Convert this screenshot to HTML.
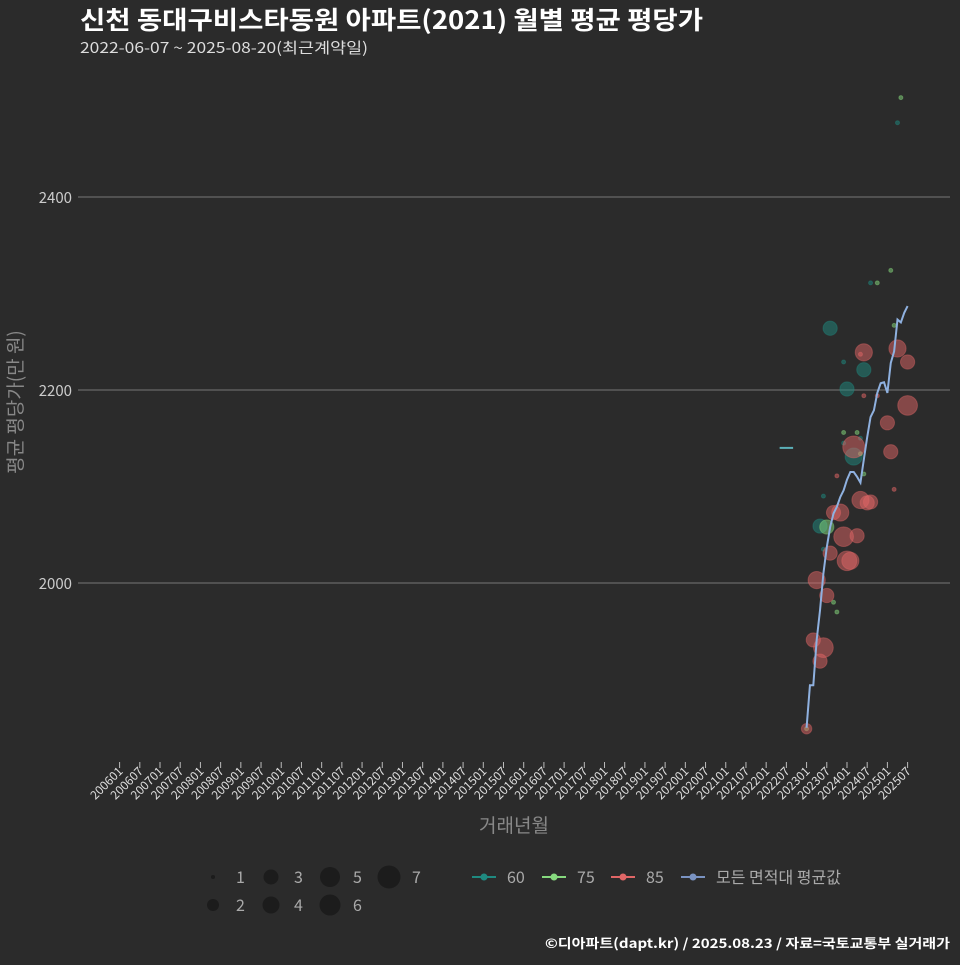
<!DOCTYPE html>
<html><head><meta charset="utf-8">
<style>
body{margin:0;background:#2b2b2b;}
svg text{font-family:"Noto Sans CJK KR","Liberation Sans",sans-serif;}
</style></head>
<body>
<svg id="chart" width="960" height="960" xmlns="http://www.w3.org/2000/svg">
<rect width="960" height="960" fill="#2b2b2b"/>
<text x="80" y="29" fill="#ffffff" font-size="25" font-weight="bold" textLength="623" lengthAdjust="spacingAndGlyphs">신천 동대구비스타동원 아파트(2021) 월별 평균 평당가</text>
<text x="80" y="53" fill="#dddddd" font-size="15" textLength="288" lengthAdjust="spacingAndGlyphs">2022-06-07 ~ 2025-08-20(최근계약일)</text>
<g id="grid"></g>
<g id="yaxis"></g>
<g id="xaxis"></g>
<g id="marks"></g>
<text transform="translate(22,402) rotate(-90)" text-anchor="middle" fill="#888" font-size="19">평균 평당가(만 원)</text>
<text x="514" y="832" text-anchor="middle" fill="#888" font-size="19">거래년월</text>
<g id="legend"></g>
<text x="950" y="948" text-anchor="end" fill="#ffffff" font-size="13" font-weight="bold" textLength="405" lengthAdjust="spacingAndGlyphs">©디아파트(dapt.kr) / 2025.08.23 / 자료=국토교통부 실거래가</text>
</svg>
<script>
const yTicks=[2000,2200,2400];
const avgStart="202301";
const avgValues=[1850,1894,1894,1941,1972,2010,2037,2058,2072,2079,2089,2096,2107,2115,2115,2110,2104,2128,2151,2172,2179,2197,2207,2208,2197,2228,2240,2273,2270,2280,2287];
const line60Month=["202205","202209"];
const line60Value=[2140,2140];
const b85Month=["202301","202303","202306","202305","202304","202307","202308","202312","202311","202309","202401","202402","202404","202405","202407","202408","202403","202310","202503","202502","202501","202507","202406","202410","202406","202504","202507","202405"];
const b85Value=[1849,1941,1933,1919,2003,1987,2031,2048,2073,2073,2023,2023,2049,2086,2083,2084,2141,2111,2097,2136,2166,2184,2194,2194,2239,2243,2229,2237];
const b85Count=[2,3,5,3,4,3,3,5,4,3,5,4,3,4,3,3,6,1,1,3,3,5,1,1,4,4,3,1];
const b60Month=["202308","202312","202406","202401","202312","202403","202306","202305","202306","202405","202408","202504"];
const b60Value=[2264,2229,2221,2201,2145,2131,2090,2059,2035,2150,2311,2477];
const b60Count=[3,1,3,3,1,4,1,3,1,1,1,1];
const b75Month=["202301","202309","202310","202307","202312","202404","202405","202406","202503","202502","202410","202505"];
const b75Value=[1849,1980,1970,2058,2156,2156,2134,2113,2267,2324,2311,2503];
const b75Count=[1,1,1,3,1,1,1,1,1,1,1,1];
const sizeLevels=[1,2,3,4,5,6,7];
const colorLabels=["60","75","85","모든 면적대 평균값"];

const NS="http://www.w3.org/2000/svg";
const COL={60:"#1f8a80",75:"#86d97e",85:"#e06666",avg:"#8fb1e0"};
function mIdx(s){return (parseInt(s.slice(0,4))-2006)*12+parseInt(s.slice(4))-1;}
function xS(m){return 119.6+m*(788/234);}
function yS(v){return 583-(v-2000)*0.965;}
function rS(n){return Math.sqrt(4+(n-1)*23.3);}
function mk(tag,attrs,parent){const e=document.createElementNS(NS,tag);for(const k in attrs)e.setAttribute(k,attrs[k]);parent.appendChild(e);return e;}
const grid=document.getElementById('grid'),yax=document.getElementById('yaxis'),xax=document.getElementById('xaxis'),marks=document.getElementById('marks'),leg=document.getElementById('legend');
yTicks.forEach(v=>{
 const l=mk('line',{x1:78,x2:950,y1:yS(v),y2:yS(v),stroke:'#777','stroke-width':1},grid);
 
 
 const t=mk('text',{x:72,y:yS(v)+6,'text-anchor':'end',fill:'#ccc','font-size':15},yax);
 t.textContent=v;
 
 
});
for(let y=2006;y<=2025;y++){for(const mm of ["01","07"]){
 const lab=y+mm,x=xS(mIdx(lab));
 const tk=mk('line',{x1:x,x2:x,y1:762,y2:768,stroke:'#bbb','stroke-width':1},xax);
 
 
 const t=mk('text',{transform:`translate(${x+4},772) rotate(-45)`,'text-anchor':'end',fill:'#ddd','font-size':12},xax);
 t.textContent=lab;
 
 
}}
function bubbles(ms,vs,cs,col,name){
 ms.forEach((m,i)=>{
  const c=mk('circle',{cx:xS(mIdx(m)),cy:yS(vs[i]),r:rS(cs[i]),fill:col,'fill-opacity':0.5,stroke:col,'stroke-opacity':0.4},marks);
  
  
 });
}
bubbles(b60Month,b60Value,b60Count,COL[60],'point-60');
bubbles(b75Month,b75Value,b75Count,COL[75],'point-75');
bubbles(b85Month,b85Value,b85Count,COL[85],'point-85');
const l60=mk('polyline',{points:line60Month.map((m,i)=>xS(mIdx(m))+','+yS(line60Value[i])).join(' '),fill:'none',stroke:'#5bb0b8','stroke-width':2},marks);


const s0=mIdx(avgStart);
const la=mk('polyline',{points:avgValues.map((v,i)=>xS(s0+i)+','+yS(v)).join(' '),fill:'none',stroke:COL.avg,'stroke-width':2},marks);


const sp=[[213,877],[213,905],[271,877],[271,905],[330,877],[330,905],[389,877]];
sizeLevels.forEach((n,i)=>{
 const rr=[2,6,7.5,8.5,10,10.5,11.5][i];
 const c=mk('circle',{cx:sp[i][0],cy:sp[i][1],r:rr,fill:'#1c1c1c'},leg);
 
 
 const t=mk('text',{x:sp[i][0]+23,y:sp[i][1]+6,fill:'#aaa','font-size':16},leg);
 t.textContent=n;
 
 
});
const cx=[472,542,611,681],cc=[COL[60],COL[75],COL[85],'#7a93c2'];
colorLabels.forEach((lab,i)=>{
 const g=mk('g',{},leg);
 
 
 mk('line',{x1:cx[i],x2:cx[i]+24,y1:877,y2:877,stroke:cc[i],'stroke-width':2},g);
 mk('circle',{cx:cx[i]+12,cy:877,r:3.5,fill:cc[i]},g);
 const t=mk('text',{x:cx[i]+35,y:883,fill:'#aaa','font-size':16},g);
 t.textContent=lab;
});
</script>
</body></html>
